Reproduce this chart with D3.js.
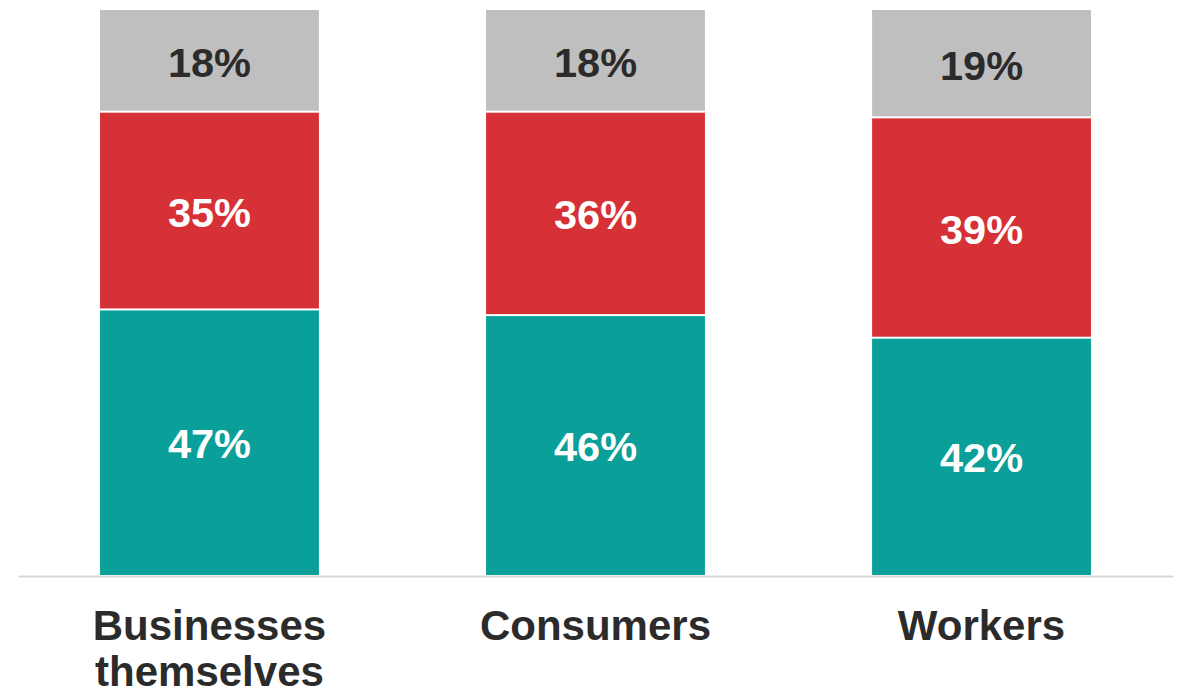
<!DOCTYPE html>
<html>
<head>
<meta charset="utf-8">
<script src="https://cdn.jsdelivr.net/npm/d3@7"></script>
<style>
  html, body { margin: 0; padding: 0; background: #ffffff; }
  svg { display: block; }
</style>
</head>
<body>
<svg id="chart" width="1186" height="693"></svg>
<script>
// Categories (bottom axis), with line breaks for wrapped labels
const categories = ["Businesses themselves", "Consumers", "Workers"];
const categoryLines = [["Businesses", "themselves"], ["Consumers"], ["Workers"]];

// Stacked series, bottom to top (percent)
const seriesKeys = ["teal", "red", "gray"];
const tealValues = [47, 46, 42];
const redValues = [35, 36, 39];
const grayValues = [18, 18, 19];

const seriesColors = { teal: "#0B9F9A", red: "#D63136", gray: "#BFBFBF" };
const labelColors = { teal: "#ffffff", red: "#ffffff", gray: "#2b2b2b" };

const rows = categories.map((c, i) => ({
  category: c,
  teal: tealValues[i],
  red: redValues[i],
  gray: grayValues[i]
}));

const svg = d3.select("#chart");
const font = "'Liberation Sans', Arial, Helvetica, sans-serif";

const x = d3.scaleBand()
  .domain(categories)
  .range([18, 1173])
  .paddingInner(0.433)
  .paddingOuter(0.2125);

const y = d3.scaleLinear().domain([0, 100]).range([575, 10]);

const stacked = d3.stack().keys(seriesKeys)(rows);
const gap = 1; // half of the white gap between stacked segments

const layers = svg.append("g")
  .selectAll("g.layer")
  .data(stacked)
  .join("g")
  .attr("class", "layer");

layers.selectAll("rect")
  .data(s => s.map(d => ({ key: s.key, d })))
  .join("rect")
  .attr("x", o => x(o.d.data.category))
  .attr("width", x.bandwidth())
  .attr("y", o => y(o.d[1]) + (o.d[1] < 100 ? gap : 0))
  .attr("height", o => {
    const top = y(o.d[1]) + (o.d[1] < 100 ? gap : 0);
    const bottom = y(o.d[0]) - (o.d[0] > 0 ? gap : 0);
    return bottom - top;
  })
  .attr("fill", o => seriesColors[o.key]);

layers.selectAll("text")
  .data(s => s.map(d => ({ key: s.key, d })))
  .join("text")
  .attr("x", o => x(o.d.data.category) + x.bandwidth() / 2)
  .attr("y", o => (y(o.d[0]) + y(o.d[1])) / 2 + 16)
  .attr("text-anchor", "middle")
  .attr("font-family", font)
  .attr("font-weight", "bold")
  .attr("font-size", 41.5)
  .attr("fill", o => labelColors[o.key])
  .text(o => (o.d[1] - o.d[0]) + "%");

// Baseline axis
const axis = svg.append("g").attr("transform", "translate(0,576)");
axis.call(d3.axisBottom(x).tickSize(0).tickFormat(""));
axis.select(".domain").attr("stroke", "#D9D9D9").attr("stroke-width", 2);

// Category labels
const catLabels = svg.append("g")
  .selectAll("text")
  .data(categories)
  .join("text")
  .attr("x", c => x(c) + x.bandwidth() / 2)
  .attr("y", 640)
  .attr("text-anchor", "middle")
  .attr("font-family", font)
  .attr("font-weight", "bold")
  .attr("font-size", 42)
  .attr("fill", "#2b2b2b");

catLabels.selectAll("tspan")
  .data((c, i) => categoryLines[i])
  .join("tspan")
  .attr("x", function () { return d3.select(this.parentNode).attr("x"); })
  .attr("dy", (t, j) => j === 0 ? 0 : 46)
  .text(t => t);
</script>
</body>
</html>
